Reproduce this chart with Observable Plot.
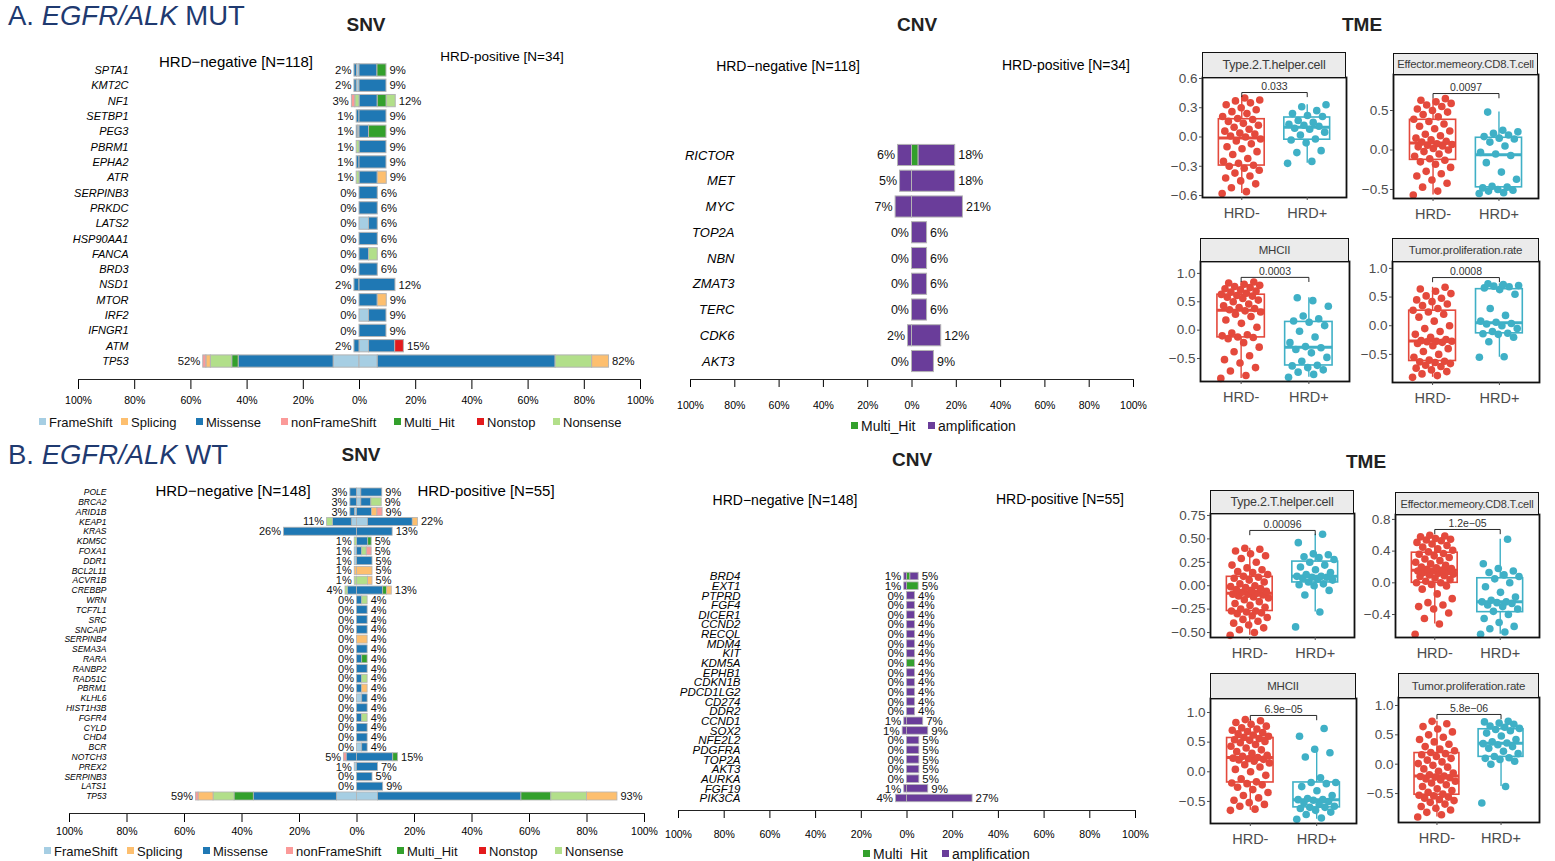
<!DOCTYPE html>
<html><head><meta charset="utf-8">
<script src="https://cdn.jsdelivr.net/npm/d3@7"></script>
<script src="https://cdn.jsdelivr.net/npm/@observablehq/plot@0.6"></script>
<style>
body{margin:0;background:#fff;font-family:"Liberation Sans",Arial,sans-serif;}
#fig{position:relative;width:1555px;height:861px;overflow:hidden;background:#fff;color:#000}
</style></head><body><div id="fig"></div>
<script>
// ---------------- DATA ----------------
// stacking order of SNV mutation classes (from the centre outward)
const snvTypes = ["FrameShift","Missense","Multi_Hit","Nonsense","Splicing","nonFrameShift","Nonstop"];
const snvColors = ["#a6cee3","#1f78b4","#33a02c","#b2df8a","#fdbf6f","#fb9a99","#e31a1c"];
const snvLegend = ["FrameShift","Splicing","Missense","nonFrameShift","Multi_Hit","Nonstop","Nonsense"];
const cnvTypes = ["Multi_Hit","amplification"];
const cnvColors = ["#33a02c","#6a3d9a"];

// Panel A SNV
const snvA_genes = ["SPTA1","KMT2C","NF1","SETBP1","PEG3","PBRM1","EPHA2","ATR","SERPINB3","PRKDC","LATS2","HSP90AA1","FANCA","BRD3","NSD1","MTOR","IRF2","IFNGR1","ATM","TP53"];
const snvA_negLabel = [2,2,3,1,1,1,1,1,0,0,0,0,0,0,2,0,0,0,2,52];
const snvA_posLabel = [9,9,12,9,9,9,9,9,6,6,6,6,6,6,12,9,9,9,15,82];
// columns follow snvTypes
const snvA_neg = [
 [0.9,0.9,0,0,0,0,0],[1.0,0.8,0,0,0,0,0],[0,0,0,1.5,0,1.2,0],[0,1.0,0,0,0,0,0],[0.5,0.5,0,0,0,0,0],
 [0,0,0,1.0,0,0,0],[0,1.0,0,0,0,0,0],[0,0,0,1.0,0,0,0],[0,0,0,0,0,0,0],[0,0,0,0,0,0,0],
 [0,0,0,0,0,0,0],[0,0,0,0,0,0,0],[0,0,0,0,0,0,0],[0,0,0,0,0,0,0],[0,1.8,0,0,0,0,0],
 [0,0,0,0,0,0,0],[0,0,0,0,0,0,0],[0,0,0,0,0,0,0],[0,1.8,0,0,0,0,0],[9.2,33.8,2.3,7.6,1.6,1.1,0]];
const snvA_pos = [
 [0,6.4,3.2,0,0,0,0],[0,9.6,0,0,0,0,0],[0,6.5,3.2,3.2,0,0,0],[0,9.6,0,0,0,0,0],[0,3.4,6.2,0,0,0,0],
 [0,9.6,0,0,0,0,0],[0,9.6,0,0,0,0,0],[0,6.5,0,0,3.2,0,0],[0,6.5,0,0,0,0,0],[0,6.5,0,0,0,0,0],
 [3.4,3.1,0,0,0,0,0],[0,6.5,0,0,0,0,0],[0,3.4,0,3.1,0,0,0],[0,6.5,0,0,0,0,0],[0,12.8,0,0,0,0,0],
 [0,6.5,0,0,3.2,0,0],[3.4,6.2,0,0,0,0,0],[0,9.6,0,0,0,0,0],[3.4,9.3,0,0,0,0,3.1],[6.5,63.3,0,13.0,6.0,0,0]];

// Panel A CNV (columns follow cnvTypes)
const cnvA_genes = ["RICTOR","MET","MYC","TOP2A","NBN","ZMAT3","TERC","CDK6","AKT3"];
const cnvA_negLabel = [6,5,7,0,0,0,0,2,0];
const cnvA_posLabel = [18,18,21,6,6,6,6,12,9];
const cnvA_neg = [[0,6.3],[0,5.4],[0,7.4],[0,0],[0,0],[0,0],[0,0],[0,1.8],[0,0]];
const cnvA_pos = [[3.0,16.5],[0,19.5],[0,23.0],[0,6.8],[0,6.8],[0,6.8],[0,6.8],[0,13.2],[0,9.9]];

// Panel B SNV
const snvB_genes = ["POLE","BRCA2","ARID1B","KEAP1","KRAS","KDM5C","FOXA1","DDR1","BCL2L11","ACVR1B","CREBBP","WRN","TCF7L1","SRC","SNCAIP","SERPINB4","SEMA3A","RARA","RANBP2","RAD51C","PBRM1","KLHL6","HIST1H3B","FGFR4","CYLD","CHD4","BCR","NOTCH3","PREX2","SERPINB3","LATS1","TP53"];
const snvB_negLabel = [3,3,3,11,26,1,1,1,1,1,4,0,0,0,0,0,0,0,0,0,0,0,0,0,0,0,0,5,1,0,0,59];
const snvB_posLabel = [9,9,9,22,13,5,5,5,5,5,13,4,4,4,4,4,4,4,4,4,4,4,4,4,4,4,4,15,7,5,9,93];
const snvB_neg = [
 [0,2.3,0,0,0,0,0],[0,2.3,0,0,0,0,0],[0.7,1.6,0,0,0,0,0],[1.8,6.6,0,2.0,0,0,0],[0,25.4,0,0,0,0,0],
 [0,0,0,0.8,0,0,0],[0.8,0,0,0,0,0,0],[0.8,0,0,0,0,0,0],[0,0,0,0,0.8,0,0],[0,0,0,0.8,0,0,0],
 [0,3.2,0,0.8,0,0,0],[0,0,0,0,0,0,0],[0,0,0,0,0,0,0],[0,0,0,0,0,0,0],[0,0,0,0,0,0,0],
 [0,0,0,0,0,0,0],[0,0,0,0,0,0,0],[0,0,0,0,0,0,0],[0,0,0,0,0,0,0],[0,0,0,0,0,0,0],
 [0,0,0,0,0,0,0],[0,0,0,0,0,0,0],[0,0,0,0,0,0,0],[0,0,0,0,0,0,0],[0,0,0,0,0,0,0],
 [0,0,0,0,0,0,0],[0,0,0,0,0,0,0],[0,3.6,0,0,0,0.9,0],[0.8,0,0,0,0,0,0],[0,0,0,0,0,0,0],
 [0,0,0,0,0,0,0],[7.0,28.9,6.7,7.3,5.2,0.9,0]];
const snvB_pos = [
 [1.5,7.3,0,0,0,0,0],[1.5,3.5,0,3.6,0,0,0],[0,5.2,0,0,1.9,1.8,0],[3.8,15.6,0,0,1.8,0,0],[0,12.4,0,0,0,0,0],
 [0,3.9,1.2,0,0,0,0],[0,1.8,0,1.6,0,1.7,0],[0,5.4,0,0,0,0,0],[0,0,0,0,5.4,0,0],[0,0,0,3.8,1.6,0,0],
 [0,9.1,1.3,0,1.7,0,0],[0,1.8,0,1.9,0,0,0],[0,3.7,0,0,0,0,0],[0,3.7,0,0,0,0,0],[0,3.7,0,0,0,0,0],
 [0,0,0,0,3.7,0,0],[0,3.7,0,0,0,0,0],[0,1.8,1.9,0,0,0,0],[0,3.7,0,0,0,0,0],[0,1.8,0,1.9,0,0,0],
 [0,1.8,0,0,1.9,0,0],[1.8,1.9,0,0,0,0,0],[0,3.7,0,0,0,0,0],[0,1.8,0,1.9,0,0,0],[0,3.7,0,0,0,0,0],
 [0,3.7,0,0,0,0,0],[1.8,1.9,0,0,0,0,0],[0,12.6,1.7,0,0,0,0],[0,7.3,0,0,0,0,0],[0,5.4,0,0,0,0,0],
 [0,9.1,0,0,0,0,0],[7.3,49.9,10.4,12.4,10.6,0,0]];

// Panel B CNV
const cnvB_genes = ["BRD4","EXT1","PTPRD","FGF4","DICER1","CCND2","RECQL","MDM4","KIT","KDM5A","EPHB1","CDKN1B","PDCD1LG2","CD274","DDR2","CCND1","SOX2","NFE2L2","PDGFRA","TOP2A","AKT3","AURKA","FGF19","PIK3CA"];
const cnvB_negLabel = [1,1,0,0,0,0,0,0,0,0,0,0,0,0,0,1,1,0,0,0,0,0,1,4];
const cnvB_posLabel = [5,5,4,4,4,4,4,4,4,4,4,4,4,4,4,7,9,5,5,5,5,5,9,27];
const cnvB_neg = [[0,1.2],[0,1.2],[0,0],[0,0],[0,0],[0,0],[0,0],[0,0],[0,0],[0,0],[0,0],[0,0],[0,0],[0,0],[0,0],[0,1.2],[0,1.9],[0,0],[0,0],[0,0],[0,0],[0,0],[0,1.2],[0,4.8]];
const cnvB_pos = [[1.5,3.6],[5.1,0],[0,3.5],[0,3.5],[0,3.5],[0,3.5],[0,3.5],[0,3.5],[0,3.5],[3.5,0],[0,3.5],[0,3.5],[0,3.5],[0,3.5],[0,3.5],[0,7.1],[0,9.3],[0,5.4],[0,5.4],[0,5.4],[0,5.4],[0,5.4],[0,9.3],[0,28.7]];

// TME box plots
const tmeGroups = ["HRD-","HRD+"];
const tmeTitles = ["Type.2.T.helper.cell","Effector.memeory.CD8.T.cell","MHCII","Tumor.proliferation.rate"];
const tmeA_p = ["0.033","0.0097","0.0003","0.0008"];
const tmeB_p = ["0.00096","1.2e\u221205","6.9e\u221205","5.8e\u221206"];
const tmeA_bracket = [0.456, 0.715, 0.93, 0.84];
const tmeB_bracket = [0.59, 0.673, 0.95, 0.847];
const a1Neg = [-0.58,-0.56,-0.52,-0.48,-0.45,-0.42,-0.40,-0.37,-0.34,-0.32,-0.30,-0.29,-0.27,-0.25,-0.22,-0.18,-0.15,-0.12,-0.10,-0.07,-0.04,-0.02,0.00,0.01,0.03,0.04,0.06,0.08,0.10,0.12,0.14,0.16,0.18,0.19,0.21,0.24,0.26,0.28,0.30,0.33,0.35,0.37,0.38,0.40];
const a1Pos = [-0.27,-0.25,-0.16,-0.14,-0.06,-0.03,-0.02,0.02,0.05,0.08,0.09,0.11,0.12,0.13,0.15,0.17,0.21,0.22,0.24,0.27,0.31,0.33];
const a2Neg = [-0.57,-0.52,-0.47,-0.42,-0.38,-0.33,-0.30,-0.27,-0.22,-0.18,-0.15,-0.13,-0.11,-0.08,-0.05,-0.02,0.00,0.02,0.04,0.05,0.06,0.07,0.08,0.10,0.11,0.13,0.15,0.18,0.20,0.24,0.27,0.30,0.33,0.36,0.39,0.42,0.45,0.48,0.50,0.52,0.55,0.57,0.59,0.61,0.63,0.65];
const a2Pos = [-0.55,-0.54,-0.52,-0.51,-0.50,-0.48,-0.47,-0.46,-0.37,-0.28,-0.16,-0.07,-0.05,-0.03,0.05,0.10,0.14,0.15,0.17,0.19,0.21,0.23,0.25,0.48];
const a3Neg = [-0.85,-0.80,-0.72,-0.66,-0.58,-0.52,-0.45,-0.38,-0.30,-0.22,-0.15,-0.13,-0.12,-0.10,-0.08,-0.05,0.05,0.12,0.18,0.24,0.28,0.32,0.34,0.36,0.38,0.40,0.43,0.46,0.50,0.53,0.56,0.58,0.60,0.61,0.63,0.65,0.67,0.69,0.71,0.73,0.75,0.77,0.79,0.81,0.83,0.85];
const a3Pos = [-0.83,-0.78,-0.74,-0.70,-0.66,-0.63,-0.62,-0.55,-0.48,-0.40,-0.34,-0.31,-0.29,-0.22,-0.12,-0.02,0.08,0.14,0.16,0.20,0.25,0.42,0.52,0.57];
const a4Neg = [-0.90,-0.87,-0.84,-0.80,-0.77,-0.74,-0.71,-0.69,-0.66,-0.64,-0.63,-0.62,-0.60,-0.55,-0.50,-0.45,-0.40,-0.35,-0.31,-0.29,-0.28,-0.27,-0.27,-0.26,-0.24,-0.20,-0.15,-0.10,-0.05,0.00,0.08,0.15,0.20,0.24,0.27,0.30,0.35,0.38,0.42,0.45,0.48,0.52,0.56,0.60,0.64,0.67];
const a4Pos = [-0.55,-0.54,-0.28,-0.20,-0.15,-0.14,-0.13,-0.10,-0.05,0.00,0.03,0.04,0.06,0.08,0.18,0.30,0.55,0.63,0.66,0.68,0.69,0.70,0.72,0.73];
const b1Neg = [-0.53,-0.50,-0.47,-0.45,-0.42,-0.40,-0.38,-0.36,-0.34,-0.32,-0.30,-0.29,-0.28,-0.27,-0.27,-0.25,-0.23,-0.21,-0.19,-0.17,-0.15,-0.13,-0.12,-0.11,-0.10,-0.09,-0.09,-0.08,-0.07,-0.06,-0.05,-0.04,-0.03,-0.02,-0.01,0.00,0.02,0.04,0.06,0.08,0.09,0.10,0.12,0.14,0.15,0.17,0.19,0.22,0.25,0.29,0.32,0.34,0.37,0.39,0.40];
const b1Pos = [-0.44,-0.28,-0.10,-0.05,0.00,0.01,0.02,0.04,0.06,0.07,0.08,0.09,0.09,0.10,0.10,0.12,0.14,0.17,0.20,0.22,0.25,0.28,0.30,0.31,0.33,0.34,0.46,0.55];
const b2Neg = [-0.65,-0.52,-0.45,-0.38,-0.33,-0.30,-0.28,-0.25,-0.20,-0.14,-0.08,-0.04,-0.02,0.00,0.00,0.02,0.04,0.06,0.08,0.09,0.10,0.11,0.12,0.13,0.14,0.15,0.15,0.16,0.17,0.18,0.19,0.20,0.22,0.24,0.26,0.28,0.30,0.32,0.34,0.36,0.37,0.39,0.41,0.43,0.45,0.47,0.49,0.51,0.53,0.54,0.55,0.56,0.58,0.59,0.60];
const b2Pos = [-0.65,-0.62,-0.58,-0.55,-0.50,-0.45,-0.40,-0.36,-0.33,-0.30,-0.28,-0.26,-0.25,-0.24,-0.24,-0.22,-0.18,-0.12,-0.05,0.00,0.05,0.08,0.10,0.13,0.15,0.18,0.24,0.55];
const b3Neg = [-0.65,-0.63,-0.58,-0.55,-0.52,-0.48,-0.44,-0.40,-0.35,-0.30,-0.26,-0.22,-0.20,-0.19,-0.17,-0.12,-0.06,0.00,0.04,0.08,0.12,0.15,0.18,0.20,0.21,0.22,0.23,0.24,0.26,0.28,0.31,0.34,0.37,0.40,0.43,0.46,0.49,0.51,0.53,0.54,0.56,0.58,0.60,0.62,0.64,0.66,0.68,0.70,0.72,0.74,0.77,0.80,0.83,0.86,0.88];
const b3Pos = [-0.80,-0.78,-0.72,-0.68,-0.65,-0.62,-0.60,-0.60,-0.58,-0.55,-0.52,-0.50,-0.48,-0.47,-0.47,-0.45,-0.40,-0.32,-0.25,-0.20,-0.18,-0.18,-0.10,0.25,0.32,0.38,0.60,0.73];
const b4Neg = [-0.90,-0.86,-0.82,-0.78,-0.75,-0.72,-0.68,-0.65,-0.62,-0.60,-0.58,-0.56,-0.54,-0.53,-0.51,-0.48,-0.45,-0.42,-0.38,-0.35,-0.32,-0.29,-0.27,-0.25,-0.23,-0.22,-0.21,-0.20,-0.18,-0.15,-0.12,-0.08,-0.05,-0.02,0.01,0.04,0.07,0.10,0.13,0.16,0.18,0.20,0.23,0.26,0.30,0.34,0.38,0.42,0.46,0.50,0.55,0.60,0.64,0.69,0.73];
const b4Pos = [-0.66,-0.38,0.00,0.05,0.08,0.10,0.11,0.13,0.18,0.22,0.27,0.30,0.33,0.35,0.36,0.38,0.42,0.48,0.53,0.57,0.59,0.61,0.63,0.65,0.68,0.70,0.72,0.73];

// ---------------- RENDERING ----------------
const FONT = '"Liberation Sans", Arial, Helvetica, sans-serif';
const RED = "#E4493C", TEAL = "#3FB0C6";
const fig = document.getElementById("fig");

function addText(html, x, y, css, anchor = "middle") {
  const d = document.createElement("div");
  d.innerHTML = html;
  d.style.cssText = `position:absolute;left:${x}px;top:${y}px;white-space:nowrap;line-height:1;font-family:${FONT};${css}`;
  d.style.transform = anchor === "middle" ? "translate(-50%,-50%)" : anchor === "start" ? "translate(0,-50%)" : "translate(-100%,-50%)";
  fig.appendChild(d);
  return d;
}
function addPlot(svg, left, top) {
  const w = document.createElement("div");
  w.style.cssText = `position:absolute;left:${left}px;top:${top}px;`;
  w.appendChild(svg);
  fig.appendChild(w);
}
function addLegend(names, colorOf, xs, y, fs) {
  names.forEach((n, i) => {
    const sq = document.createElement("div");
    sq.style.cssText = `position:absolute;left:${xs[i] - 10}px;top:${y - 3}px;width:7px;height:7px;background:${colorOf(n)}`;
    fig.appendChild(sq);
    addText(n, xs[i], y + 1, `font-size:${fs}px;color:#111`, "start");
  });
}

function diverging(o) {
  const rows = [];
  o.genes.forEach((g, i) => o.types.forEach((t, j) => {
    if (o.neg[i][j] > 0) rows.push({gene: g, type: t, value: -o.neg[i][j]});
    if (o.pos[i][j] > 0) rows.push({gene: g, type: t, value: o.pos[i][j]});
  }));
  const labs = o.genes.map((g, i) => ({gene: g, nx: -d3.sum(o.neg[i]), px: d3.sum(o.pos[i]),
    nl: o.negLabel[i] + "%", pl: o.posLabel[i] + "%"}));
  const svg = Plot.plot({
    width: o.width, height: o.height,
    marginLeft: o.mL, marginRight: o.mR, marginTop: 0, marginBottom: o.mB,
    style: {fontFamily: FONT, fontSize: "11px", color: "#000", background: "transparent", overflow: "visible"},
    x: {domain: [-100, 100]},
    y: {domain: o.genes, range: o.yRange, paddingInner: o.pin, paddingOuter: o.pin / 2, round: false},
    color: {domain: o.types, range: o.colors},
    marks: [
      Plot.barX(rows, Plot.stackX({x: "value", y: "gene", fill: "type", order: o.types,
        stroke: "#b4b4b4", strokeWidth: o.sw ?? 1})),
      Plot.text(labs, {x: "nx", y: "gene", text: "nl", textAnchor: "end", dx: -3, fontSize: o.pctFont, fill: "#111"}),
      Plot.text(labs, {x: "px", y: "gene", text: "pl", textAnchor: "start", dx: 3, fontSize: o.pctFont, fill: "#111"}),
      Plot.axisY({tickSize: 0, dx: o.geneDx, fontSize: o.geneFont, fontStyle: "italic", fontWeight: o.geneWeight ?? "normal", label: null}),
      Plot.axisX({ticks: d3.range(-100, 101, 20), tickFormat: d => Math.abs(d) + "%", tickSize: o.tickSize,
        tickPadding: o.tickPadding, fontSize: o.tickFont, label: null}),
      Plot.frame({anchor: "bottom", stroke: "#222"})
    ]
  });
  addPlot(svg, o.left, o.top);
}

const jit = i => (((i * 0.6180339887) % 1) - 0.5) * 0.6;
function boxStats(vals, g) {
  const s = vals.slice().sort(d3.ascending);
  const q1 = d3.quantile(s, 0.25), q2 = d3.quantile(s, 0.5), q3 = d3.quantile(s, 0.75), iqr = q3 - q1;
  return {g, x1: g - 0.35, x2: g + 0.35, q1, q2, q3,
    lo: d3.min(s.filter(v => v >= q1 - 1.5 * iqr)), hi: d3.max(s.filter(v => v <= q3 + 1.5 * iqr))};
}
function tme(c) {
  const mL = 45, mT = 2, mR = 2, mB = 36;
  const width = c.R - c.L + mL + mR, height = c.B - c.T + mT + mB;
  const pts = [];
  [c.neg, c.pos].forEach((vals, gi) => vals.forEach((v, i) => pts.push({g: gi + 1, x: gi + 1 + jit(i), y: v})));
  const stats = [boxStats(c.neg, 1), boxStats(c.pos, 2)];
  const d = (c.domain[1] - c.domain[0]) * 0.035;
  const br = [{x: 1, y: c.bracket - d}, {x: 1, y: c.bracket}, {x: 2, y: c.bracket}, {x: 2, y: c.bracket - d}];
  const svg = Plot.plot({
    width, height, marginLeft: mL, marginTop: mT, marginRight: mR, marginBottom: mB,
    style: {fontFamily: FONT, color: "#4d4d4d", background: "transparent", overflow: "visible"},
    x: {domain: [0.4, 2.6]},
    y: {domain: c.domain},
    color: {type: "ordinal", domain: [1, 2], range: [RED, TEAL]},
    marks: [
      Plot.ruleX(stats, {x: "g", y1: "lo", y2: "q1", stroke: "g", strokeWidth: 1.4}),
      Plot.ruleX(stats, {x: "g", y1: "q3", y2: "hi", stroke: "g", strokeWidth: 1.4}),
      Plot.rect(stats, {x1: "x1", x2: "x2", y1: "q1", y2: "q3", stroke: "g", fill: "white", strokeWidth: 1.6}),
      Plot.ruleY(stats, {x1: "x1", x2: "x2", y: "q2", stroke: "g", strokeWidth: 3}),
      Plot.dot(pts, {x: "x", y: "y", r: 3.8, fill: "g"}),
      Plot.line(br, {x: "x", y: "y", stroke: "#111", strokeWidth: 0.9}),
      Plot.text([{x: 1.5, y: c.bracket, t: c.p}], {x: "x", y: "y", text: "t", dy: -6, fontSize: 10.5, fill: "#333"}),
      Plot.frame({stroke: "#111", strokeWidth: 1.8}),
      Plot.axisY({ticks: c.ticks, tickFormat: d3.format(c.fmt), tickSize: 3, tickPadding: 2, fontSize: 13.5, label: null}),
      Plot.axisX({ticks: [1, 2], tickFormat: v => tmeGroups[v - 1], tickSize: 3, tickPadding: 7, fontSize: 14.5, label: null})
    ]
  });
  addPlot(svg, c.L - mL, c.T - mT);
  const strip = document.createElement("div");
  strip.style.cssText = `position:absolute;left:${c.L}px;top:${c.S}px;width:${c.R - c.L}px;height:${c.T - c.S}px;box-sizing:border-box;border:1.6px solid #111;border-bottom:none;background:#ebebeb;display:flex;align-items:center;justify-content:center;font-family:${FONT};font-size:${c.sf}px;color:#3a3a3a;white-space:nowrap;overflow:visible;letter-spacing:-0.2px`;
  strip.textContent = c.title;
  fig.appendChild(strip);
}

// ---------- titles ----------
const navy = "#1f3a70";
addText("A. <i>EGFR/ALK</i> MUT", 8, 16, `font-size:27.5px;color:${navy}`, "start");
addText("B. <i>EGFR/ALK</i> WT", 8, 455, `font-size:27.5px;color:${navy}`, "start");
const hb = "font-size:19px;font-weight:bold;color:#222";
addText("SNV", 366, 24, hb); addText("CNV", 917, 24, hb); addText("TME", 1362, 24, hb);
addText("SNV", 361, 454, hb); addText("CNV", 912, 459, hb); addText("TME", 1366, 461, hb);
addText("HRD\u2212negative [N=118]", 236, 61, "font-size:15px");
addText("HRD-positive [N=34]", 502, 57, "font-size:13.5px");
addText("HRD\u2212negative [N=118]", 788, 66, "font-size:14px");
addText("HRD-positive [N=34]", 1066, 65, "font-size:14px");
addText("HRD\u2212negative [N=148]", 233, 490, "font-size:15px");
addText("HRD-positive [N=55]", 486, 490, "font-size:15px");
addText("HRD\u2212negative [N=148]", 785, 500, "font-size:14px");
addText("HRD-positive [N=55]", 1060, 499, "font-size:14px");

// ---------- SNV / CNV ----------
diverging({genes: snvA_genes, types: snvTypes, colors: snvColors, neg: snvA_neg, pos: snvA_pos,
  negLabel: snvA_negLabel, posLabel: snvA_posLabel, left: 60, top: 40, width: 600, height: 375,
  mL: 18, mR: 20, mB: 36, yRange: [22.3, 328.7], pin: 0.2, geneDx: 59, geneFont: 11, pctFont: 11.3,
  tickSize: 10, tickPadding: 7, tickFont: 10.5});
diverging({genes: cnvA_genes, types: cnvTypes, colors: cnvColors, neg: cnvA_neg, pos: cnvA_pos,
  negLabel: cnvA_negLabel, posLabel: cnvA_posLabel, left: 670, top: 120, width: 480, height: 300,
  mL: 20, mR: 17, mB: 41, yRange: [22.1, 253.9], pin: 0.18, geneDx: 53, geneFont: 13, pctFont: 12.5,
  tickSize: 8, tickPadding: 14, tickFont: 10.5});
diverging({genes: snvB_genes, types: snvTypes, colors: snvColors, neg: snvB_neg, pos: snvB_pos,
  negLabel: snvB_negLabel, posLabel: snvB_posLabel, left: 50, top: 470, width: 610, height: 380,
  mL: 19, mR: 16, mB: 37, yRange: [17.1, 330.9], pin: 0.18, geneDx: 46, geneFont: 8.5, pctFont: 11,
  tickSize: 9, tickPadding: 5, tickFont: 10.5, sw: 0.8});
diverging({genes: cnvB_genes, types: cnvTypes, colors: cnvColors, neg: cnvB_neg, pos: cnvB_pos,
  negLabel: cnvB_negLabel, posLabel: cnvB_posLabel, left: 660, top: 540, width: 490, height: 310,
  mL: 18, mR: 15, mB: 40, yRange: [31.2, 262.8], pin: 0.22, geneDx: 71, geneFont: 11.5, pctFont: 11.5,
  tickSize: 8, tickPadding: 12, tickFont: 10.5, sw: 0.8});

// ---------- legends ----------
const snvColorOf = n => snvColors[snvTypes.indexOf(n)];
const cnvColorOf = n => cnvColors[cnvTypes.indexOf(n)];
addLegend(snvLegend, snvColorOf, [49, 131, 206, 291, 404, 487, 563], 421, 13);
addLegend(snvLegend, snvColorOf, [54, 137, 213, 296, 407, 489, 565], 850, 13);
addLegend(cnvTypes, cnvColorOf, [861, 938], 425, 14);
addLegend(cnvTypes, cnvColorOf, [873, 952], 853, 14);

// ---------- TME ----------
tme({title: tmeTitles[0], p: tmeA_p[0], neg: a1Neg, pos: a1Pos, domain: [-0.62, 0.61], ticks: [-0.6, -0.3, 0, 0.3, 0.6], fmt: ".1f",
  bracket: tmeA_bracket[0], L: 1202, T: 77, R: 1346, B: 197, S: 52, sf: 12.5});
tme({title: tmeTitles[1], p: tmeA_p[1], neg: a2Neg, pos: a2Pos, domain: [-0.614, 0.956], ticks: [-0.5, 0, 0.5], fmt: ".1f",
  bracket: tmeA_bracket[1], L: 1393, T: 74, R: 1538, B: 198, S: 53, sf: 11.3});
tme({title: tmeTitles[2], p: tmeA_p[2], neg: a3Neg, pos: a3Pos, domain: [-0.905, 1.21], ticks: [-0.5, 0, 0.5, 1], fmt: ".1f",
  bracket: tmeA_bracket[2], L: 1200, T: 261, R: 1349, B: 381, S: 238, sf: 11.5});
tme({title: tmeTitles[3], p: tmeA_p[3], neg: a4Neg, pos: a4Pos, domain: [-0.99, 1.12], ticks: [-0.5, 0, 0.5, 1], fmt: ".1f",
  bracket: tmeA_bracket[3], L: 1392, T: 261, R: 1539, B: 382, S: 238, sf: 11.5});
tme({title: tmeTitles[0], p: tmeB_p[0], neg: b1Neg, pos: b1Pos, domain: [-0.553, 0.771], ticks: [-0.5, -0.25, 0, 0.25, 0.5, 0.75], fmt: ".2f",
  bracket: tmeB_bracket[0], L: 1210, T: 513, R: 1354, B: 637, S: 490, sf: 12.5});
tme({title: tmeTitles[1], p: tmeB_p[1], neg: b2Neg, pos: b2Pos, domain: [-0.69, 0.862], ticks: [-0.4, 0, 0.4, 0.8], fmt: ".1f",
  bracket: tmeB_bracket[1], L: 1395, T: 514, R: 1539, B: 637, S: 492, sf: 11});
tme({title: tmeTitles[2], p: tmeB_p[2], neg: b3Neg, pos: b3Pos, domain: [-0.872, 1.236], ticks: [-0.5, 0, 0.5, 1], fmt: ".1f",
  bracket: tmeB_bracket[2], L: 1210, T: 698, R: 1356, B: 823, S: 673, sf: 11.5});
tme({title: tmeTitles[3], p: tmeB_p[3], neg: b4Neg, pos: b4Pos, domain: [-0.993, 1.136], ticks: [-0.5, 0, 0.5, 1], fmt: ".1f",
  bracket: tmeB_bracket[3], L: 1398, T: 697, R: 1539, B: 822, S: 673, sf: 11.5});
</script></body></html>
